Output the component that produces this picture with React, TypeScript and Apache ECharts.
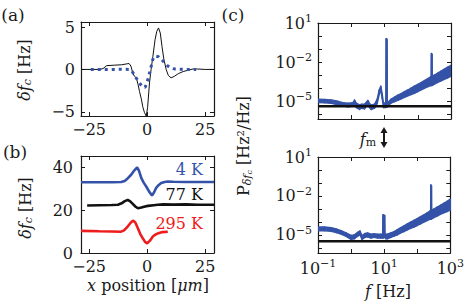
import React, { useEffect, useRef } from 'react';
import * as echarts from 'echarts';

const FONT = 'DejaVu Serif';
const INK = '#1a1a1a';
const BLUE = '#3453a8';
const RED = '#ee1c1c';

// ---------- Panel (a): x position [um] vs delta f_c [Hz]
const aLineX = [-28.5, -20.6, -19, -17.4, -14.2, -11, -8.9, -7.8, -7, -6.2, -5.5, -4.65, -3.9, -3.3, -2.5, -1.9, -1.15, -0.4, 0.2, 1.0, 1.7, 2.45, 3.4, 4.15, 4.9, 5.65, 6.4, 7.2, 8.2, 9.1, 10.3, 11.8, 13.4, 15.5, 17.6, 19.7, 21.8, 25, 28.8];
const aLineY = [0, 0, 0.1, 0.45, 0.5, 0.55, 0.65, 0.7, 0.4, -0.4, -0.8, -1.0, -1.8, -2.6, -3.5, -4.4, -5.1, -5.5, -4.5, -1.6, 0, 1.5, 3.5, 4.5, 4.9, 4.3, 2.7, 1.2, 0, -0.7, -1.0, -0.8, -0.5, -0.25, -0.1, 0.05, 0.05, 0, 0];
const aDotX = [-24.3, -20.6, -15.3, -10, -7.8, -6.8, -6.1, -4.75, -3.3, -1.9, -0.85, 0.33, 1.4, 2.45, 3.4, 4.9, 6.8, 8.9, 11.8, 16.1, 21.1];
const aDotY = [0, 0, 0, 0.02, 0, -0.1, -0.4, -1.0, -1.6, -2.1, -2.1, -1.2, 0, 1.2, 1.6, 1.5, 1.0, 0.4, 0.05, 0, 0];

// ---------- Panel (b): three temperatures
const b4KX = [-28.5, -20.6, -15.3, -11.2, -9.7, -8.4, -6.9, -5.5, -4.3, -3.5, -2.5, -1.5, -0.4, 0.86, 2.1, 3.0, 3.8, 4.9, 6.05, 7.5, 8.9, 11.25, 16.55, 21.85, 28.8];
const b4KY = [33.2, 33.2, 33.2, 33.3, 33.8, 35.0, 36.7, 38.8, 40.2, 38.5, 35.1, 33.0, 31.2, 28.8, 27.0, 28.5, 30.4, 31.8, 32.8, 33.3, 33.5, 33.4, 33.3, 33.3, 33.3];
const b77KX = [-25.85, -20.6, -15.3, -12.6, -11, -9.8, -8.4, -7.3, -6.1, -5.1, -4.0, -2.5, -0.9, 0.33, 2.8, 4.6, 7, 11.25, 16.55, 21.85, 28.8];
const b77KY = [22.3, 22.4, 22.5, 22.6, 23.3, 24.2, 24.9, 24.2, 22.9, 21.8, 21.0, 21.3, 21.8, 22.1, 22.4, 22.6, 22.8, 22.7, 22.8, 22.6, 22.6];
const b295KX = [-28.5, -20.6, -15.3, -11.2, -9.95, -8.4, -7.1, -6.1, -5.1, -4.0, -3.0, -1.9, -0.9, 0.0, 1.2, 2.45, 3.6, 4.9, 6.5, 8.9];
const b295KY = [10.4, 10.2, 10.1, 10.0, 10.6, 12.4, 14.2, 15.2, 14.3, 11.6, 9.0, 6.9, 5.2, 4.5, 5.8, 7.7, 8.7, 9.3, 9.8, 10.0];

// ---------- Panel (c): PSD, stored as log10(f [Hz]) and log10(P) band edges
const cTopLogF = [-1.0, -0.8, -0.6, -0.4, -0.25, -0.1, 0.05, 0.1, 0.15, 0.25, 0.3, 0.4, 0.5, 0.55, 0.6, 0.7, 0.78, 0.84, 0.89, 0.93, 0.97, 1.04, 1.05, 1.075, 1.085, 1.12, 1.2, 1.3, 1.4, 1.5, 1.6, 1.7, 1.8, 1.9, 2.0, 2.1, 2.2, 2.3, 2.38, 2.405, 2.41, 2.43, 2.435, 2.46, 2.5, 2.6, 2.7, 2.8, 2.9, 3.0];
const cTopLow = [-5.12, -5.13, -5.18, -5.28, -5.38, -5.45, -5.4, -5.2, -5.5, -5.65, -5.55, -5.6, -5.25, -5.5, -5.65, -5.55, -5.2, -4.5, -4.2, -4.8, -5.5, -5.5, -5.45, -5.45, -5.45, -5.35, -5.15, -5.05, -4.95, -4.83, -4.72, -4.6, -4.5, -4.4, -4.28, -4.15, -4.02, -3.9, -3.82, -3.8, -3.8, -3.8, -3.78, -3.75, -3.7, -3.57, -3.45, -3.33, -3.22, -3.1];
const cTopHigh = [-4.85, -4.87, -4.92, -5.02, -5.12, -5.17, -5.12, -4.92, -5.15, -5.3, -5.25, -5.25, -4.95, -5.2, -5.3, -5.25, -4.85, -4.15, -3.85, -4.45, -5.15, -5.15, -0.2, -0.25, -5.1, -5.05, -4.85, -4.7, -4.55, -4.43, -4.28, -4.15, -4.0, -3.85, -3.72, -3.58, -3.42, -3.28, -3.15, -3.12, -1.35, -1.4, -3.1, -3.05, -3.0, -2.85, -2.7, -2.55, -2.4, -2.25];
const cTopFloor = -5.4;

const cBotLogF = [-1.0, -0.8, -0.6, -0.45, -0.3, -0.15, 0.0, 0.1, 0.2, 0.27, 0.33, 0.42, 0.5, 0.6, 0.7, 0.8, 0.9, 0.955, 0.965, 1.015, 1.025, 1.05, 1.1, 1.2, 1.3, 1.4, 1.5, 1.6, 1.7, 1.8, 1.9, 2.0, 2.1, 2.2, 2.3, 2.38, 2.405, 2.41, 2.43, 2.435, 2.46, 2.5, 2.6, 2.7, 2.8, 2.9, 3.0];
const cBotLow = [-4.68, -4.68, -4.72, -4.82, -4.95, -5.12, -5.35, -5.3, -5.1, -5.0, -5.35, -5.2, -5.15, -5.25, -5.2, -5.25, -5.25, -5.25, -5.25, -5.2, -5.2, -5.3, -5.3, -5.2, -5.1, -5.0, -4.85, -4.75, -4.62, -4.5, -4.4, -4.28, -4.15, -4.02, -3.9, -3.8, -3.78, -3.78, -3.78, -3.76, -3.73, -3.68, -3.55, -3.42, -3.3, -3.2, -3.1];
const cBotHigh = [-4.4, -4.4, -4.45, -4.55, -4.68, -4.85, -5.05, -5.0, -4.8, -4.7, -5.05, -4.9, -4.85, -4.95, -4.92, -4.95, -4.95, -4.95, -3.45, -3.5, -4.95, -4.95, -4.95, -4.85, -4.75, -4.6, -4.45, -4.3, -4.15, -4.02, -3.88, -3.75, -3.6, -3.45, -3.3, -3.18, -3.15, -1.15, -1.2, -3.12, -3.08, -3.02, -2.87, -2.72, -2.57, -2.42, -2.25];
const cBotFloor = -5.5;

// ---------- ticks
const abXTicks = [-25, 0, 25];
const aYTicks = [-5, 0, 5];
const bYTicks = [0, 20, 40];
const cXTicks = [-1, 0, 1, 2, 3];
const cXLabels = [-1, 1, 3];
const cYTicks = [-6, -5, -4, -3, -2, -1, 0, 1];
const cYLabels = [-5, -2, 1];

const zip = (xs: number[], ys: number[]) => xs.map((x, i) => [x, ys[i]]);
const num = (v: number) => (v < 0 ? '\u2212' + Math.abs(v) : String(v));
const pow = (v: number) => `{b|10}{s|${num(v)}}`;

const FS = 16;
const labelRich = {
  b: { fontFamily: FONT, fontSize: FS, color: INK },
  s: { fontFamily: FONT, fontSize: 11, color: INK, padding: [0, 0, 9, 0] },
};

function xAx(grid: number, min: number, max: number, ticks: number[], labels: number[] | null, fmt: (v: number) => string, position: 'top' | 'bottom') {
  return {
    type: 'value', gridIndex: grid, min, max, position,
    axisLine: { show: true, onZero: false, lineStyle: { color: INK, width: 1.2 } },
    axisTick: { show: true, inside: true, length: 4, customValues: ticks, lineStyle: { color: INK, width: 1 } },
    axisLabel: labels
      ? { show: true, customValues: labels, formatter: fmt, margin: 5, color: INK, fontFamily: FONT, fontSize: FS, rich: labelRich }
      : { show: false },
    splitLine: { show: false },
  };
}
function yAx(grid: number, min: number, max: number, ticks: number[], labels: number[] | null, fmt: (v: number) => string, position: 'left' | 'right', margin = 6) {
  return {
    type: 'value', gridIndex: grid, min, max, position,
    axisLine: { show: true, onZero: false, lineStyle: { color: INK, width: 1.2 } },
    axisTick: { show: true, inside: true, length: 4, customValues: ticks, lineStyle: { color: INK, width: 1 } },
    axisLabel: labels
      ? { show: true, customValues: labels, formatter: fmt, margin, color: INK, fontFamily: FONT, fontSize: FS, rich: labelRich }
      : { show: false },
    splitLine: { show: false },
  };
}

const AB_MIN = -28.5, AB_MAX = 28.8;

// noisy PSD band drawn as quads between consecutive samples, through the axes' scales
const band = (axis: number, xs: number[], lo: number[], hi: number[]) => ({
  type: 'custom', xAxisIndex: axis, yAxisIndex: axis, clip: true,
  data: xs.slice(0, -1).map((x, i) => [x, lo[i], hi[i], xs[i + 1], lo[i + 1], hi[i + 1]]),
  encode: { x: [0, 3], y: [1, 2, 4, 5] },
  renderItem: (params: any, api: any) => {
    const p = [
      api.coord([api.value(0), api.value(1)]),
      api.coord([api.value(3), api.value(4)]),
      api.coord([api.value(3), api.value(5)]),
      api.coord([api.value(0), api.value(2)]),
    ];
    return { type: 'polygon', shape: { points: p }, style: { fill: BLUE, stroke: BLUE, lineWidth: 1.4, lineJoin: 'round' } };
  },
  z: 2,
});

const option = {
  animation: false,
  backgroundColor: '#fff',
  grid: [
    { left: 81, top: 22, width: 133, height: 94 },
    { left: 81, top: 156, width: 133, height: 97 },
    { left: 318, top: 23, width: 133, height: 96 },
    { left: 318, top: 157, width: 133, height: 96 },
  ],
  xAxis: [
    xAx(0, AB_MIN, AB_MAX, abXTicks, abXTicks, num, 'bottom'),
    xAx(0, AB_MIN, AB_MAX, abXTicks, null, num, 'top'),
    xAx(1, AB_MIN, AB_MAX, abXTicks, abXTicks, num, 'bottom'),
    xAx(1, AB_MIN, AB_MAX, abXTicks, null, num, 'top'),
    xAx(2, -1, 3, cXTicks, null, pow, 'bottom'),
    xAx(2, -1, 3, cXTicks, null, pow, 'top'),
    xAx(3, -1, 3, cXTicks, cXLabels, pow, 'bottom'),
    xAx(3, -1, 3, cXTicks, null, pow, 'top'),
  ],
  yAxis: [
    yAx(0, -5.5, 5.6, aYTicks, aYTicks, num, 'left'),
    yAx(0, -5.5, 5.6, aYTicks, null, num, 'right'),
    yAx(1, 0, 45.5, bYTicks, bYTicks, num, 'left', 8),
    yAx(1, 0, 45.5, bYTicks, null, num, 'right'),
    yAx(2, -6.38, 1, cYTicks, cYLabels, pow, 'left'),
    yAx(2, -6.38, 1, cYTicks, null, pow, 'right'),
    yAx(3, -6.4, 1, cYTicks, cYLabels, pow, 'left'),
    yAx(3, -6.4, 1, cYTicks, null, pow, 'right'),
  ],
  series: [
    { type: 'line', xAxisIndex: 0, yAxisIndex: 0, data: zip(aLineX, aLineY), symbol: 'none', lineStyle: { color: '#111', width: 1 } },
    { type: 'line', xAxisIndex: 0, yAxisIndex: 0, data: zip(aDotX, aDotY), symbol: 'none', lineStyle: { color: BLUE, width: 3, type: [3, 4], cap: 'butt' } },
    { type: 'line', xAxisIndex: 2, yAxisIndex: 2, data: zip(b4KX, b4KY), symbol: 'none', lineStyle: { color: BLUE, width: 2.6 } },
    { type: 'line', xAxisIndex: 2, yAxisIndex: 2, data: zip(b77KX, b77KY), symbol: 'none', lineStyle: { color: '#111', width: 2.6 } },
    { type: 'line', xAxisIndex: 2, yAxisIndex: 2, data: zip(b295KX, b295KY), symbol: 'none', lineStyle: { color: RED, width: 2.6 } },
    band(4, cTopLogF, cTopLow, cTopHigh),
    { type: 'line', xAxisIndex: 4, yAxisIndex: 4, data: [[-1, cTopFloor], [3, cTopFloor]], symbol: 'none', lineStyle: { color: '#111', width: 2.6 }, z: 5 },
    band(6, cBotLogF, cBotLow, cBotHigh),
    { type: 'line', xAxisIndex: 6, yAxisIndex: 6, data: [[-1, cBotFloor], [3, cBotFloor]], symbol: 'none', lineStyle: { color: '#111', width: 2.6 }, z: 5 },
  ],
  graphic: [
    { type: 'text', x: 13, y: 15, style: { text: '(a)', fontFamily: FONT, fontSize: 17, fill: INK, align: 'center', verticalAlign: 'middle' } },
    { type: 'text', x: 15, y: 152, style: { text: '(b)', fontFamily: FONT, fontSize: 17, fill: INK, align: 'center', verticalAlign: 'middle' } },
    { type: 'text', x: 233, y: 15, style: { text: '(c)', fontFamily: FONT, fontSize: 17, fill: INK, align: 'center', verticalAlign: 'middle' } },
    {
      type: 'text', x: 24, y: 70, rotation: Math.PI / 2,
      style: {
        text: '{i|\u03b4f}{sub|c}{n| [Hz]}', align: 'center', verticalAlign: 'middle', fill: INK,
        rich: { i: { fontFamily: FONT, fontSize: FS, fontStyle: 'italic', fill: INK }, sub: { fontFamily: FONT, fontSize: 11, fontStyle: 'italic', fill: INK, padding: [7, 0, 0, 0] }, n: { fontFamily: FONT, fontSize: FS, fill: INK } },
      },
    },
    {
      type: 'text', x: 25, y: 208, rotation: Math.PI / 2,
      style: {
        text: '{i|\u03b4f}{sub|c}{n| [Hz]}', align: 'center', verticalAlign: 'middle', fill: INK,
        rich: { i: { fontFamily: FONT, fontSize: FS, fontStyle: 'italic', fill: INK }, sub: { fontFamily: FONT, fontSize: 11, fontStyle: 'italic', fill: INK, padding: [7, 0, 0, 0] }, n: { fontFamily: FONT, fontSize: FS, fill: INK } },
      },
    },
    {
      type: 'text', x: 243, y: 146, rotation: Math.PI / 2,
      style: {
        text: '{n|P}{sub|\u03b4f}{ss|c}{n| [Hz\u00b2/Hz]}', align: 'center', verticalAlign: 'middle', fill: INK,
        rich: { n: { fontFamily: FONT, fontSize: FS, fill: INK }, sub: { fontFamily: FONT, fontSize: 11, fontStyle: 'italic', fill: INK, padding: [8, 0, 0, 0] }, ss: { fontFamily: FONT, fontSize: 8, fontStyle: 'italic', fill: INK, padding: [13, 0, 0, 0] } },
      },
    },
    {
      type: 'text', x: 148, y: 285,
      style: {
        text: '{i|x}{n| position [}{i|\u03bcm}{n|]}', align: 'center', verticalAlign: 'middle', fill: INK,
        rich: { i: { fontFamily: FONT, fontSize: FS, fontStyle: 'italic', fill: INK }, n: { fontFamily: FONT, fontSize: FS, fill: INK } },
      },
    },
    {
      type: 'text', x: 388, y: 291,
      style: {
        text: '{i|f}{n| [Hz]}', align: 'center', verticalAlign: 'middle', fill: INK,
        rich: { i: { fontFamily: FONT, fontSize: FS, fontStyle: 'italic', fill: INK }, n: { fontFamily: FONT, fontSize: FS, fill: INK } },
      },
    },
    {
      type: 'text', x: 368, y: 139,
      style: {
        text: '{i|f}{sub|m}', align: 'center', verticalAlign: 'middle', fill: INK,
        rich: { i: { fontFamily: FONT, fontSize: FS, fontStyle: 'italic', fill: INK }, sub: { fontFamily: FONT, fontSize: 11, fill: INK, padding: [7, 0, 0, 0] } },
      },
    },
    { type: 'line', shape: { x1: 384, y1: 131, x2: 384, y2: 144 }, style: { stroke: INK, lineWidth: 2 } },
    { type: 'polygon', shape: { points: [[380.5, 133], [387.5, 133], [384, 127]] }, style: { fill: INK } },
    { type: 'polygon', shape: { points: [[380.5, 142], [387.5, 142], [384, 148]] }, style: { fill: INK } },
    { type: 'text', x: 203, y: 169, style: { text: '4 K', fontFamily: FONT, fontSize: FS, fill: BLUE, align: 'right', verticalAlign: 'middle' } },
    { type: 'text', x: 203, y: 194, style: { text: '77 K', fontFamily: FONT, fontSize: FS, fill: '#111', align: 'right', verticalAlign: 'middle' } },
    { type: 'text', x: 203, y: 223, style: { text: '295 K', fontFamily: FONT, fontSize: FS, fill: RED, align: 'right', verticalAlign: 'middle' } },
  ],
};

export default function App() {
  const ref = useRef<HTMLDivElement>(null);
  useEffect(() => {
    const chart = echarts.init(ref.current as HTMLDivElement, undefined, { renderer: 'svg' });
    chart.setOption(option as any);
    return () => chart.dispose();
  }, []);
  return <div ref={ref} style={{ position: 'absolute', left: 0, top: 0, width: 467, height: 301, background: '#fff' }} />;
}
